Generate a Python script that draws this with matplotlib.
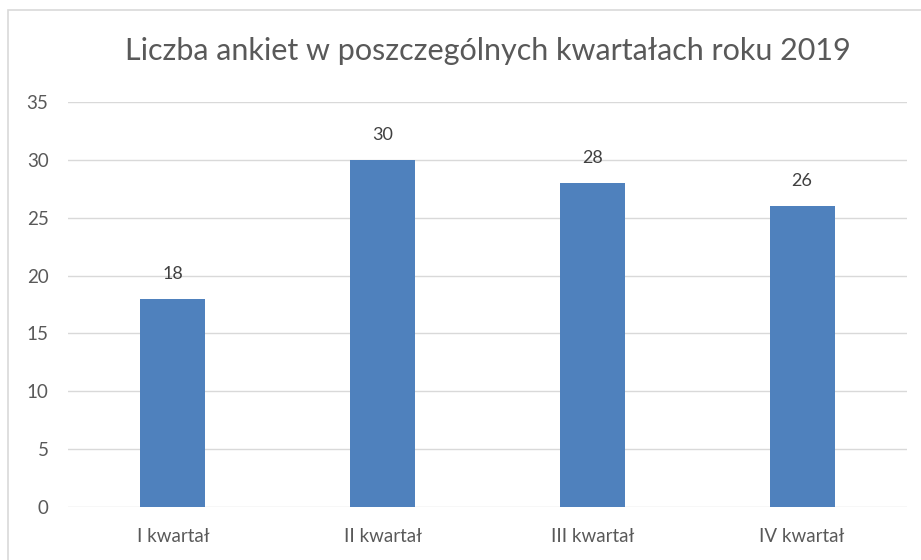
import matplotlib
matplotlib.use("Agg")
import matplotlib.pyplot as plt
from matplotlib.patches import Rectangle

plt.rcParams['font.family'] = ['Lato', 'DejaVu Sans']

quarters = ["I kwartał", "II kwartał", "III kwartał", "IV kwartał"]
counts = [18, 30, 28, 26]
yticks = [0, 5, 10, 15, 20, 25, 30, 35]

BAR_COLOUR = '#4F81BD'
GRID_COLOUR = '#D9D9D9'
TEXT_COLOUR = '#595959'

fig = plt.figure(figsize=(9.21, 5.6), dpi=100)
ax = fig.add_axes([68 / 921, 1 - 507 / 560, (907 - 68) / 921, (507 - 102) / 560])

xs = range(len(quarters))
bars = ax.bar(xs, counts, width=0.31, color=BAR_COLOUR, zorder=3)
for b, v in zip(bars, counts):
    ax.annotate(str(v), (b.get_x() + b.get_width() / 2, v), xytext=(0, 12),
                textcoords='offset points', ha='center', va='bottom',
                fontsize=13, color='#404040')

ax.set_xlim(-0.5, len(quarters) - 0.5)
ax.set_ylim(0, 35)
ax.set_yticks(yticks)
ax.set_xticks(list(xs))
ax.set_xticklabels(quarters)
ax.tick_params(axis='both', length=0, labelsize=13.5, labelcolor=TEXT_COLOUR)
ax.tick_params(axis='y', pad=14)
ax.tick_params(axis='x', pad=15)
ax.grid(axis='y', color=GRID_COLOUR, linewidth=1, zorder=0)
for s in ax.spines.values():
    s.set_visible(False)

fig.text(488 / 921, 1 - 51 / 560, "Liczba ankiet w poszczególnych kwartałach roku 2019",
         ha='center', va='center', fontsize=22, color=TEXT_COLOUR)

# chart frame (only top/left edges visible in the crop)
fig.patches.append(Rectangle((8 / 921, -0.1), 1.2, 1.1 - 10 / 560, transform=fig.transFigure,
                             fill=False, edgecolor=GRID_COLOUR, linewidth=1.2))

fig.savefig('out.png', dpi=100)
